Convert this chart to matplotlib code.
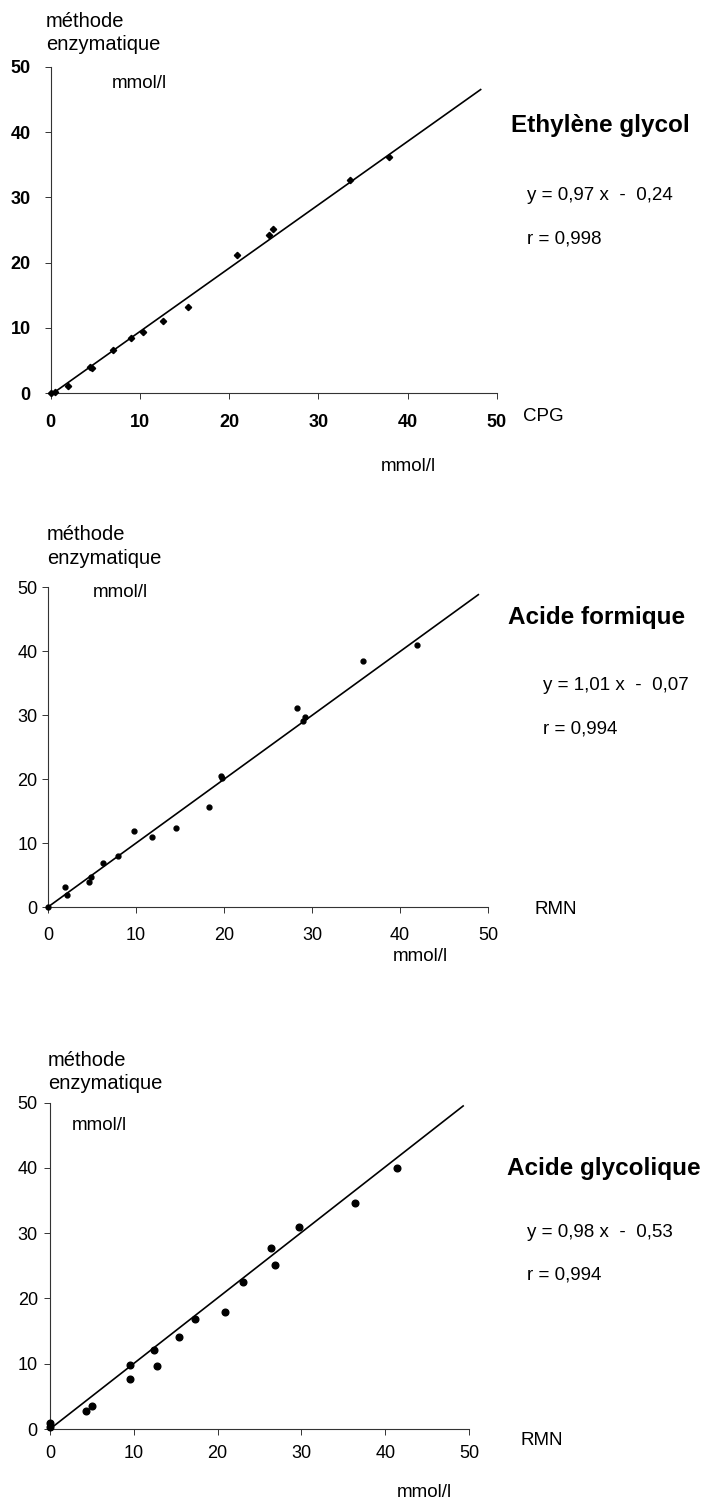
import matplotlib
matplotlib.use("Agg")
import matplotlib.pyplot as plt

plt.rcParams["font.family"] = ["Liberation Sans", "DejaVu Sans"]

W, H = 707, 1501
TICKS = [0, 10, 20, 30, 40, 50]

# Ethylène glycol : CPG (x) vs méthode enzymatique (y), mmol/l
eg_x = [0.0, 0.5, 1.9, 4.4, 4.6, 7.0, 9.0, 10.4, 12.6, 15.4, 20.9, 24.5, 24.9, 33.6, 37.9]
eg_y = [0.0, 0.25, 1.1, 4.0, 3.9, 6.7, 8.4, 9.4, 11.0, 13.2, 21.2, 24.3, 25.2, 32.6, 36.2]
eg_fit_x = [0.25, 48.2]
eg_fit_y = [0.0, 46.5]

# Acide formique : RMN (x) vs méthode enzymatique (y)
fa_x = [0.0, 1.9, 2.2, 4.7, 4.9, 6.2, 7.9, 9.8, 11.85, 14.5, 18.3, 19.7, 19.8,
        28.3, 29.0, 29.2, 35.8, 41.9]
fa_y = [0.0, 3.1, 1.8, 3.95, 4.65, 6.8, 7.95, 11.8, 10.95, 12.4, 15.6, 20.5, 20.2,
        31.1, 29.0, 29.7, 38.4, 40.9]
fa_fit_x = [0.0, 48.9]
fa_fit_y = [0.0, 48.8]

# Acide glycolique : RMN (x) vs méthode enzymatique (y)
ga_x = [0.0, 0.0, 4.3, 5.0, 9.5, 9.5, 12.4, 12.8, 15.4, 17.3, 20.9, 23.0, 26.4,
        26.8, 29.7, 36.4, 41.45]
ga_y = [0.3, 0.9, 2.8, 3.6, 7.6, 9.85, 12.15, 9.6, 14.05, 16.9, 17.9, 22.6, 27.8,
        25.2, 30.9, 34.6, 40.05]
ga_fit_x = [0.0, 49.3]
ga_fit_y = [0.0, 49.5]

LABEL_FS = 14.5   # méthode / enzymatique
TEXT_FS = 13.5    # equations, units
TICK_FS = 13
TITLE_FS = 17.5


def px_rect(left, right, top, bottom):
    return [left / W, 1 - bottom / H, (right - left) / W, (bottom - top) / H]


def ftext(x, y, s, **kw):
    kw.setdefault("fontsize", TEXT_FS)
    fig.text(x / W, 1 - y / H, s, va="baseline", **kw)


def draw_panel(rect, xs, ys, fit_x, fit_y, marker, msize, bold, xpad, ypad):
    ax = fig.add_axes(rect)
    ax.plot(fit_x, fit_y, color="black", lw=1.2, clip_on=False, zorder=2)
    ax.plot(xs, ys, ls="none", marker=marker, ms=msize, color="black",
            clip_on=False, zorder=3)
    ax.set_xlim(0, 50)
    ax.set_ylim(0, 50)
    ax.set_xticks(TICKS)
    ax.set_yticks(TICKS)
    for s in ("top", "right"):
        ax.spines[s].set_visible(False)
    for s in ("left", "bottom"):
        ax.spines[s].set_linewidth(0.8)
        ax.spines[s].set_color("#333333")
    ax.tick_params(axis="x", direction="out", length=4, width=0.7, pad=xpad,
                   labelsize=TICK_FS, colors="#333333", labelcolor="black")
    ax.tick_params(axis="y", direction="out", length=4, width=0.7, pad=ypad,
                   labelsize=TICK_FS, colors="#333333", labelcolor="black")
    if bold:
        for lab in ax.get_xticklabels() + ax.get_yticklabels():
            lab.set_fontweight("bold")
    ax.patch.set_alpha(0)
    return ax


fig = plt.figure(figsize=(W / 100, H / 100), dpi=100)

# --- Panel 1: Ethylène glycol
draw_panel(px_rect(50.7, 496.7, 66.7, 393.3), eg_x, eg_y, eg_fit_x, eg_fit_y,
           "D", 3.2, True, 11, 10.5)
ftext(46, 27, "méthode", fontsize=LABEL_FS)
ftext(46, 50, "enzymatique", fontsize=LABEL_FS)
ftext(112, 88, "mmol/l")
ftext(511, 132, "Ethylène glycol", fontsize=TITLE_FS, fontweight="bold")
ftext(527, 200, "y = 0,97 x  -  0,24")
ftext(527, 243, "r = 0,998")
ftext(523, 421, "CPG")
ftext(381, 471, "mmol/l")

# --- Panel 2: Acide formique
draw_panel(px_rect(48, 488, 587, 907), fa_x, fa_y, fa_fit_x, fa_fit_y,
           "o", 3.5, False, 10.5, 3.6)
ftext(47, 540, "méthode", fontsize=LABEL_FS)
ftext(47, 564, "enzymatique", fontsize=LABEL_FS)
ftext(93, 597, "mmol/l")
ftext(508, 624, "Acide formique", fontsize=TITLE_FS, fontweight="bold")
ftext(543, 690, "y = 1,01 x  -  0,07")
ftext(543, 733, "r = 0,994")
ftext(534, 914, "RMN")
ftext(393, 961, "mmol/l")

# --- Panel 3: Acide glycolique
draw_panel(px_rect(50, 469, 1102.7, 1429), ga_x, ga_y, ga_fit_x, ga_fit_y,
           "o", 4.8, False, 7.3, 4.8)
ftext(48, 1066, "méthode", fontsize=LABEL_FS)
ftext(48, 1089, "enzymatique", fontsize=LABEL_FS)
ftext(72, 1130, "mmol/l")
ftext(507, 1175, "Acide glycolique", fontsize=TITLE_FS, fontweight="bold")
ftext(527, 1237, "y = 0,98 x  -  0,53")
ftext(527, 1280, "r = 0,994")
ftext(521, 1445, "RMN")
ftext(397, 1497, "mmol/l")

fig.savefig("out.png", dpi=100)
